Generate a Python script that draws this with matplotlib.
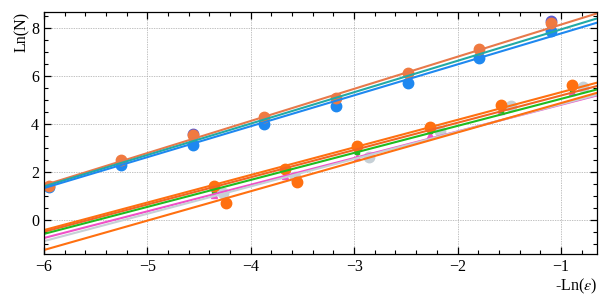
import matplotlib
matplotlib.use("Agg")
import matplotlib.pyplot as plt
import numpy as np
from matplotlib.ticker import MultipleLocator

# x positions of the measured points (-ln(eps))
x_top = [-5.95, -5.26, -4.56, -3.87, -3.18, -2.48, -1.79, -1.10]
y_top_orange = [1.42, 2.50, 3.54, 4.30, 5.07, 6.14, 7.11, 8.22]
y_top_blue = [1.39, 2.29, 3.12, 4.00, 4.75, 5.72, 6.76, 7.89]
x_top_purple = [-4.56, -1.10]
y_top_purple = [3.60, 8.27]

x_low = [-4.36, -3.67, -2.97, -2.27, -1.58, -0.89]
y_low_orange = [1.42, 2.11, 3.10, 3.89, 4.79, 5.63]
y_low_green = [1.22, 2.00, 2.85, 3.70, 4.58, 5.40]
x_low_gray = [-4.27, -3.57, -2.86, -2.17, -1.48, -0.79]
y_low_gray = [1.12, 1.80, 2.64, 3.70, 4.75, 5.54]
y_low_pink = [1.04, 1.85, 2.62, 3.55, 4.55, 5.35]
x_low_orange2 = [-4.24, -3.55]
y_low_orange2 = [0.70, 1.60]

# fitted lines: (value at x=-6, slope, colour)
fit_b = [1.45, 1.40, 1.33, -0.42, -0.49, -0.58, -0.75, -0.88, -1.25]
fit_a = [1.338, 1.308, 1.288, 1.148, 1.135, 1.125, 1.11, 1.14, 1.224]
fit_c = ["#e8794a", "#22aaa5", "#1e88f0", "#ff7010", "#f26522", "#1fbb1f",
         "#f050c8", "#c6d0d6", "#ff7010"]

plt.rcParams["font.family"] = ["Liberation Serif", "DejaVu Serif"]
plt.rcParams["mathtext.fontset"] = "stix"

fig = plt.figure(figsize=(6.08, 3.05), dpi=100)
ax = fig.add_axes([0.0724, 0.167, 0.9096, 0.794])

ms = 7.5
ax.plot(x_top, y_top_blue, "o", color="#1e88f0", ms=ms)
ax.plot(x_top_purple, y_top_purple, "o", color="#5a5ad0", ms=ms)
ax.plot(x_top, y_top_orange, "o", color="#f07a40", ms=ms)

ax.plot(x_low_gray, y_low_gray, "o", color="#c6d0d6", ms=ms)
ax.plot(x_low_orange2, y_low_orange2, "o", color="#ff7010", ms=ms)
ax.plot(x_low, y_low_pink, "^", color="#f050c8", ms=4)
ax.plot(x_low, y_low_green, "s", color="#1fbb1f", ms=3.5)
ax.plot(x_low, y_low_orange, "o", color="#ff7010", ms=ms)

xl = np.array([-6.0, -0.65])
for b, a, c in zip(fit_b, fit_a, fit_c):
    ax.plot(xl, b + a * (xl - xl[0]), color=c, lw=1.5)

ax.set_xlim(-6.0, -0.65)
ax.set_ylim(-1.42, 8.67)
ax.xaxis.set_major_locator(MultipleLocator(1))
ax.xaxis.set_minor_locator(MultipleLocator(0.2))
ax.yaxis.set_major_locator(MultipleLocator(2))
ax.yaxis.set_minor_locator(MultipleLocator(0.5))
ax.tick_params(which="both", direction="in", top=True, right=True, labelsize=11.5)
ax.tick_params(which="major", length=5, width=0.9)
ax.tick_params(which="minor", length=2.7, width=0.8)
for s in ax.spines.values():
    s.set_linewidth(0.9)
ax.grid(True, which="major", ls=(0, (2, 1.5)), lw=0.5, color="#aaaaaa")

ax.set_xlabel(r"-Ln($\epsilon$)", loc="right", fontsize=11.5, labelpad=1)
ax.set_ylabel("Ln(N)", loc="top", fontsize=11.5, labelpad=1)

fig.savefig("out.png", dpi=100)
